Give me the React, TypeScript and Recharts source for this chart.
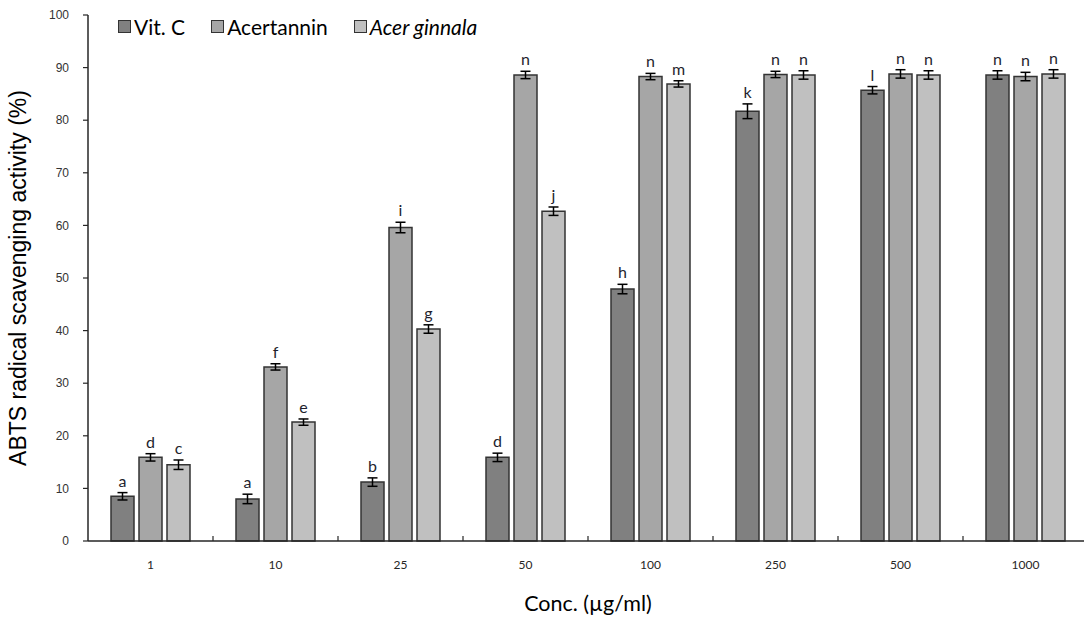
import React from "react";
import {
  BarChart, Bar, XAxis, YAxis, ErrorBar, LabelList,
} from "recharts";

// ABTS scavenging (%) per concentration, mean ± SD, with significance letters
const concentrations = ["1", "10", "25", "50", "100", "250", "500", "1000"];
const vitC = [8.5, 8.0, 11.2, 15.9, 47.9, 81.7, 85.7, 88.6];
const vitCErr = [0.7, 0.9, 0.8, 0.8, 0.9, 1.4, 0.7, 0.8];
const vitCLetters = ["a", "a", "b", "d", "h", "k", "l", "n"];
const acertannin = [15.9, 33.1, 59.6, 88.6, 88.3, 88.7, 88.8, 88.3];
const acertanninErr = [0.7, 0.6, 1.0, 0.7, 0.6, 0.6, 0.8, 0.8];
const acertanninLetters = ["d", "f", "i", "n", "n", "n", "n", "n"];
const acerGinnala = [14.5, 22.6, 40.3, 62.7, 86.9, 88.6, 88.6, 88.8];
const acerGinnalaErr = [0.9, 0.6, 0.8, 0.8, 0.6, 0.8, 0.8, 0.8];
const acerGinnalaLetters = ["c", "e", "g", "j", "m", "n", "n", "n"];
const yTicks = [0, 10, 20, 30, 40, 50, 60, 70, 80, 90, 100];

const data = concentrations.map((c, i) => ({
  conc: c,
  vitC: vitC[i],
  vitCErr: vitCErr[i],
  acertannin: acertannin[i],
  acertanninErr: acertanninErr[i],
  acerGinnala: acerGinnala[i],
  acerGinnalaErr: acerGinnalaErr[i],
}));

const series = [
  { key: "vitC", name: "Vit. C", color: "#808080", err: vitCErr, letters: vitCLetters, italic: false },
  { key: "acertannin", name: "Acertannin", color: "#a6a6a6", err: acertanninErr, letters: acertanninLetters, italic: false },
  { key: "acerGinnala", name: "Acer ginnala", color: "#c0c0c0", err: acerGinnalaErr, letters: acerGinnalaLetters, italic: true },
];

// layout
const CHART_W = 1094;
const CHART_H = 617;
const MARGIN = { top: 15, right: 6, left: 0, bottom: 16 };
const Y_AXIS_W = 88;
const X_AXIS_H = 60;
const PLOT_W = CHART_W - MARGIN.left - MARGIN.right - Y_AXIS_W;
const PLOT_H = CHART_H - MARGIN.top - MARGIN.bottom - X_AXIS_H;
const AXIS_Y = MARGIN.top + PLOT_H;
const BAND = PLOT_W / concentrations.length;
const AXIS_COLOR = "#262626";
const CALIBRI = "Lato, 'Open Sans', sans-serif";
const ARIAL = "'Liberation Sans', Arial, sans-serif";

const XTick = ({ x, payload, index }: any) => (
  <g>
    {index < concentrations.length - 1 && (
      <line x1={x + BAND / 2} x2={x + BAND / 2} y1={AXIS_Y} y2={AXIS_Y - 5} stroke={AXIS_COLOR} strokeWidth={1.2} />
    )}
    <text x={x} y={AXIS_Y + 28} textAnchor="middle" fontSize={12} fontFamily={CALIBRI} fill="#262626">
      {payload.value}
    </text>
  </g>
);

const makeLetterLabel = (errs: number[], letters: string[]) => (props: any) => {
  const { x, y, width, index } = props;
  const errPx = (errs[index] * PLOT_H) / 100;
  return (
    <text
      x={x + width / 2}
      y={y - errPx - 6}
      textAnchor="middle"
      fontSize={16}
      fontFamily={CALIBRI}
      fill="#1f1f2e"
    >
      {letters[index]}
    </text>
  );
};

// legend sits inside the plot area, so it is drawn as an overlay
const SeriesLegend = () => (
  <div
    style={{
      position: "absolute", left: 118, top: 14, display: "flex", alignItems: "center",
      fontFamily: CALIBRI, fontSize: 21, color: "#000",
    }}
  >
    {series.map((s) => (
      <div key={s.key} style={{ display: "flex", alignItems: "center", marginRight: 26 }}>
        <span
          style={{
            width: 11, height: 11, background: s.color, border: "1.5px solid #333",
            marginRight: 3, display: "inline-block",
          }}
        />
        <span style={{ fontStyle: s.italic ? "italic" : "normal" }}>{s.name}</span>
      </div>
    ))}
  </div>
);

export default function App() {
  return (
    <div style={{ position: "absolute", left: 0, top: 0, width: 1084, height: 617, overflow: "hidden", background: "#fff" }}>
      <BarChart width={CHART_W} height={CHART_H} data={data} margin={MARGIN} barSize={23} barGap={5}>
        <XAxis
          dataKey="conc"
          height={X_AXIS_H}
          tickLine={false}
          tick={<XTick />}
          axisLine={{ stroke: AXIS_COLOR, strokeWidth: 1.5 }}
          interval={0}
          label={{
            value: "Conc. (µg/ml)",
            position: "insideBottom",
            offset: -10,
            style: { fontSize: 21.5, fontFamily: CALIBRI, fill: "#000" },
          }}
        />
        <YAxis
          width={Y_AXIS_W}
          domain={[0, 100]}
          ticks={yTicks}
          interval={0}
          tickSize={5}
          tickMargin={14}
          tick={{ fontSize: 12, fontFamily: ARIAL, fill: "#333" }}
          tickLine={{ stroke: AXIS_COLOR, strokeWidth: 1.2 }}
          axisLine={{ stroke: AXIS_COLOR, strokeWidth: 1.5 }}
          label={{
            value: "ABTS radical scavenging activity (%)",
            angle: -90,
            position: "insideLeft",
            offset: 18,
            style: { fontSize: 23, fontFamily: ARIAL, fill: "#000", textAnchor: "middle" },
          }}
        />
        {series.map((s) => (
          <Bar
            key={s.key}
            dataKey={s.key}
            name={s.name}
            fill={s.color}
            stroke="#333"
            strokeWidth={1.5}
            isAnimationActive={false}
          >
            <ErrorBar dataKey={`${s.key}Err`} width={5} stroke="#000" strokeWidth={1.5} direction="y" />
            <LabelList dataKey={s.key} content={makeLetterLabel(s.err, s.letters)} />
          </Bar>
        ))}
      </BarChart>
      <SeriesLegend />
    </div>
  );
}
